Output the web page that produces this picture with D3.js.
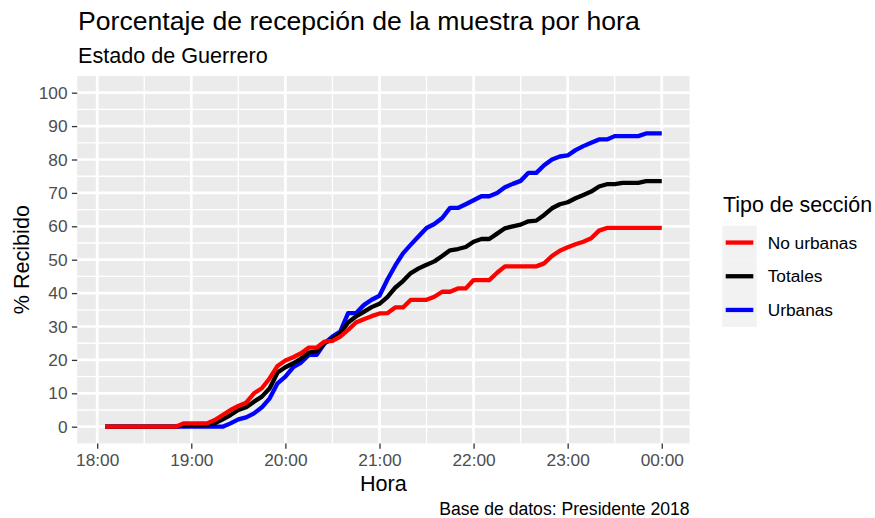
<!DOCTYPE html>
<html><head><meta charset="utf-8">
<script src="https://cdn.jsdelivr.net/npm/d3@7"></script>
<style>
body{margin:0;background:#fff}
svg{display:block}
text{font-family:"Liberation Sans",Arial,Helvetica,sans-serif}
</style>
</head><body>
<svg id="c" width="875" height="518"></svg>
<script>
// ---------- DATA ----------
const horas = ["18:05","18:10","18:15","18:20","18:25","18:30","18:35","18:40","18:45","18:50","18:55",
  "19:00","19:05","19:10","19:15","19:20","19:25","19:30","19:35","19:40","19:45","19:50","19:55",
  "20:00","20:05","20:10","20:15","20:20","20:25","20:30","20:35","20:40","20:45","20:50","20:55",
  "21:00","21:05","21:10","21:15","21:20","21:25","21:30","21:35","21:40","21:45","21:50","21:55",
  "22:00","22:05","22:10","22:15","22:20","22:25","22:30","22:35","22:40","22:45","22:50","22:55",
  "23:00","23:05","23:10","23:15","23:20","23:25","23:30","23:35","23:40","23:45","23:50","23:55",
  "00:00"];
const noUrbanas = [0,0,0,0,0,0,0,0,0,0,1,
  1,1,1,2,3.5,5,6.2,7.2,10,11.5,14.5,18.2,
  19.8,20.8,22,23.7,23.7,25.5,25.7,27,29,31.2,32.2,33.1,
  33.9,34,35.7,35.7,38,38,38,38.9,40.4,40.4,41.4,41.4,
  43.9,43.9,43.9,46.1,48,48,48,48,48,48.9,51.1,52.7,
  53.7,54.6,55.4,56.4,58.7,59.5,59.5,59.5,59.5,59.5,59.5,59.5,
  59.5];
const totales = [0,0,0,0,0,0,0,0,0,0,0.4,
  0.5,0.5,0.6,1,2.2,3.5,5,5.8,7.5,9,11.5,16.2,
  17.8,19,20.4,22.2,22.6,25,26.2,28,31.2,33,34.4,35.8,
  36.8,38.8,41.6,43.6,46,47.4,48.5,49.5,51.1,52.8,53.2,53.8,
  55.4,56.2,56.2,57.8,59.4,60,60.5,61.5,61.7,63.4,65.4,66.6,
  67.2,68.4,69.4,70.4,71.9,72.6,72.6,73,73,73,73.5,73.5,
  73.5];
const urbanas = [0,0,0,0,0,0,0,0,0,0,0,
  0,0,0,0,0,1,2.2,2.8,4,5.8,8.5,13,
  15,17.8,19.2,21.5,21.5,25,27,28.5,34,34,36.4,38,
  39.2,44,48.2,51.9,54.5,57,59.5,60.7,62.5,65.5,65.5,66.6,
  67.8,69,69,70,71.7,72.7,73.6,76,76,78.3,80,80.9,
  81.2,82.8,84,85,86,86,87,87,87,87,87.8,87.8,
  87.8];
const seriesNames = ["No urbanas","Totales","Urbanas"];
const seriesColors = ["#FF0000","#000000","#0000FF"];
const yTicks = [0,10,20,30,40,50,60,70,80,90,100];
const yMinor = [5,15,25,35,45,55,65,75,85,95];
const xTickLabels = ["18:00","19:00","20:00","21:00","22:00","23:00","00:00"];
const xMinorLabels = ["18:30","19:30","20:30","21:30","22:30","23:30"];
const title = "Porcentaje de recepción de la muestra por hora";
const subtitle = "Estado de Guerrero";
const caption = "Base de datos: Presidente 2018";
const xTitle = "Hora", yTitle = "% Recibido", legendTitle = "Tipo de sección";

// ---------- HELPERS ----------
function toDate(s){
  const [h,m] = s.split(":").map(Number);
  const hh = h < 12 ? h + 24 : h;
  return new Date(2018, 6, 1, hh, m);
}
const svg = d3.select("#c");
const P = {l:77.2, r:689.6, t:76, b:443.4};

const dates = horas.map(toDate);
const [d0, d1] = d3.extent(dates);
const span = d1 - d0;
const x = d3.scaleTime()
  .domain([new Date(+d0 - 0.05*span), new Date(+d1 + 0.05*span)])
  .range([P.l, P.r]);
const y = d3.scaleLinear().domain([-5,105]).range([P.b, P.t]);

// panel
svg.append("rect").attr("x",P.l).attr("y",P.t).attr("width",P.r-P.l).attr("height",P.b-P.t).attr("fill","#EBEBEB");

const grid = svg.append("g");
// minor grid
yMinor.forEach(v=>grid.append("line").attr("x1",P.l).attr("x2",P.r).attr("y1",y(v)).attr("y2",y(v)).attr("stroke","#fff").attr("stroke-width",1.35));
xMinorLabels.forEach(s=>{const xx=x(toDate(s));grid.append("line").attr("x1",xx).attr("x2",xx).attr("y1",P.t).attr("y2",P.b).attr("stroke","#fff").attr("stroke-width",1.35);});
// major grid
yTicks.forEach(v=>grid.append("line").attr("x1",P.l).attr("x2",P.r).attr("y1",y(v)).attr("y2",y(v)).attr("stroke","#fff").attr("stroke-width",2.7));
xTickLabels.forEach(s=>{const xx=x(toDate(s));grid.append("line").attr("x1",xx).attr("x2",xx).attr("y1",P.t).attr("y2",P.b).attr("stroke","#fff").attr("stroke-width",2.7);});

// axes
const xAxis = d3.axisBottom(x).tickValues(xTickLabels.map(toDate)).tickFormat(d3.timeFormat("%H:%M")).tickSize(5.3).tickPadding(4);
const gx = svg.append("g").attr("transform",`translate(0,${P.b})`).call(xAxis);
gx.select(".domain").remove();
gx.selectAll("line").attr("stroke","#333").attr("stroke-width",1.3);
gx.selectAll("text").attr("fill","#4D4D4D").attr("font-size",17.3).attr("dy","0.75em")
  .attr("font-family",'"Liberation Sans",Arial,sans-serif');

const yAxis = d3.axisLeft(y).tickValues(yTicks).tickSize(5.3).tickPadding(4.3);
const gy = svg.append("g").attr("transform",`translate(${P.l},0)`).call(yAxis);
gy.select(".domain").remove();
gy.selectAll("line").attr("stroke","#333").attr("stroke-width",1.3);
gy.selectAll("text").attr("fill","#4D4D4D").attr("font-size",17.3)
  .attr("font-family",'"Liberation Sans",Arial,sans-serif');

// lines (drawn so that red is on top)
const seriesData = [noUrbanas, totales, urbanas];
const line = d3.line().x((d,i)=>x(dates[i])).y(d=>y(d));
[2,1,0].forEach(k=>{
  svg.append("path").datum(seriesData[k]).attr("d",line)
    .attr("fill","none").attr("stroke",seriesColors[k]).attr("stroke-width",4.3)
    .attr("stroke-linejoin","round").attr("stroke-linecap","butt");
});

// titles
svg.append("text").attr("x",78).attr("y",30).attr("font-size",26.6).attr("fill","#000").text(title);
svg.append("text").attr("x",78).attr("y",63).attr("font-size",21.6).attr("fill","#000").text(subtitle);
svg.append("text").attr("x",(P.l+P.r)/2).attr("y",491).attr("text-anchor","middle").attr("font-size",21.6).attr("fill","#000").text(xTitle);
svg.append("text").attr("transform",`translate(29,${(P.t+P.b)/2}) rotate(-90)`).attr("text-anchor","middle").attr("font-size",21.6).attr("fill","#000").text(yTitle);
svg.append("text").attr("x",P.r).attr("y",515).attr("text-anchor","end").attr("font-size",17.6).attr("fill","#000").text(caption);

// legend
const lg = svg.append("g");
lg.append("text").attr("x",723).attr("y",211.7).attr("font-size",21.4).attr("fill","#000").text(legendTitle);
const keyTop = 225.7, keyH = 33.7;
seriesNames.forEach((n,i)=>{
  const ky = keyTop + i*keyH;
  lg.append("rect").attr("x",722.3).attr("y",ky).attr("width",34.4).attr("height",keyH).attr("fill","#F2F2F2");
  lg.append("line").attr("x1",725.7).attr("x2",753.3).attr("y1",ky+keyH/2).attr("y2",ky+keyH/2)
    .attr("stroke",seriesColors[i]).attr("stroke-width",4.3);
  lg.append("text").attr("x",767.7).attr("y",ky+keyH/2).attr("dy","0.35em").attr("font-size",17.3).attr("fill","#000").text(n);
});
</script>
</body></html>
